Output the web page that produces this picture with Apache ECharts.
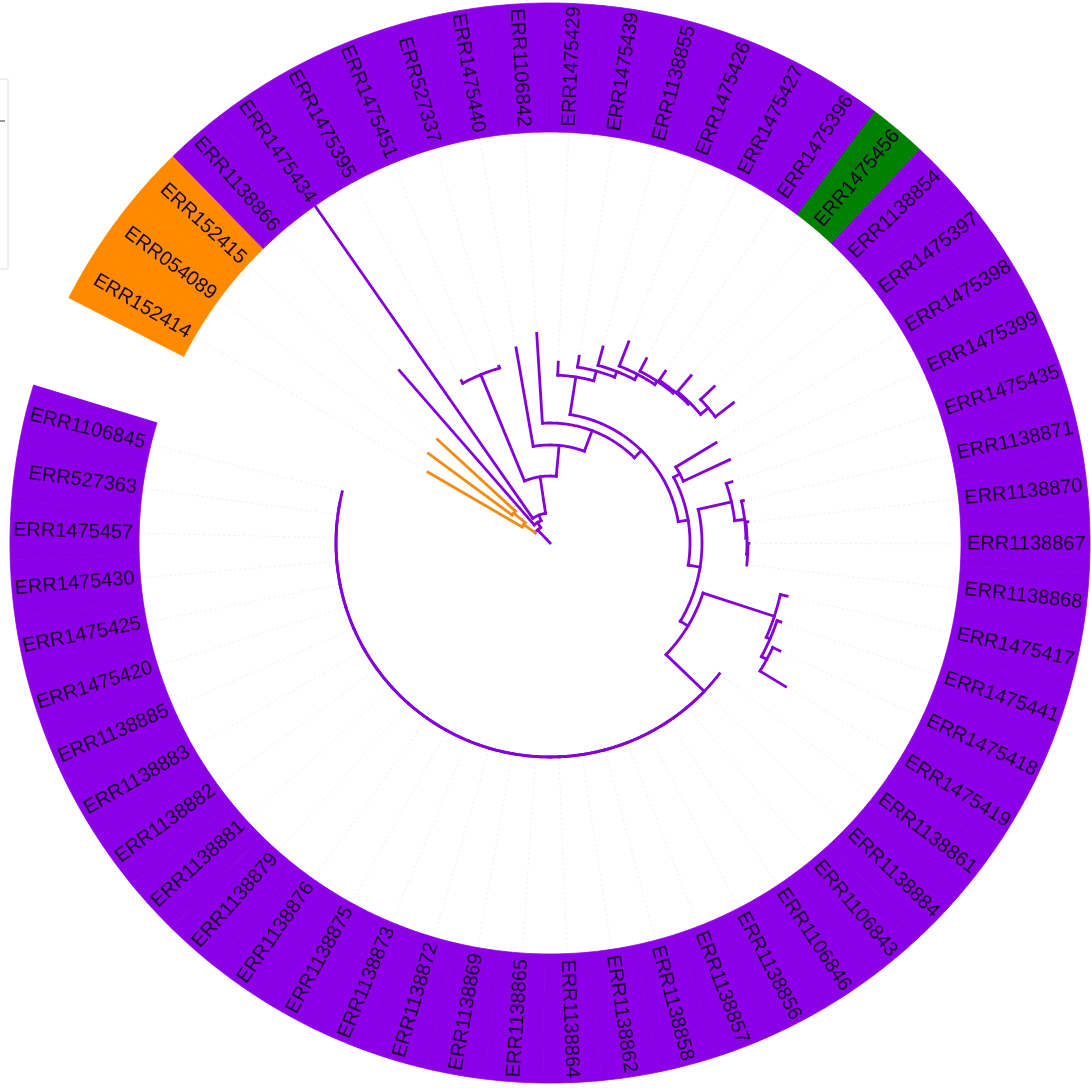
<!DOCTYPE html>
<html><head><meta charset="utf-8">
<script src="https://cdn.jsdelivr.net/npm/echarts/dist/echarts.min.js"></script>
<style>html,body{margin:0;padding:0;background:#fff}#c{width:1091px;height:1088px}</style>
</head><body><div id="c"></div>
<script>
// ---------- DATA ----------
const leafNames = ['ERR152414','ERR054089','ERR152415','ERR1138866','ERR1475434','ERR1475395','ERR1475451','ERR527337','ERR1475440','ERR1106842','ERR1475429','ERR1475439','ERR1138855','ERR1475426','ERR1475427','ERR1475396','ERR1475456','ERR1138854','ERR1475397','ERR1475398','ERR1475399','ERR1475435','ERR1138871','ERR1138870','ERR1138867','ERR1138868','ERR1475417','ERR1475441','ERR1475418','ERR1475419','ERR1138861','ERR1138884','ERR1106843','ERR1106846','ERR1138856','ERR1138857','ERR1138858','ERR1138862','ERR1138864','ERR1138865','ERR1138869','ERR1138872','ERR1138873','ERR1138875','ERR1138876','ERR1138879','ERR1138881','ERR1138882','ERR1138883','ERR1138885','ERR1475420','ERR1475425','ERR1475430','ERR1475457','ERR527363','ERR1106845'];
const orangeLeaves = ['ERR152414','ERR054089','ERR152415'];
const greenLeaves = ['ERR1475456'];

// clades (Newick, branch lengths)
const cladeOrange = "(ERR152414:109,(ERR054089:104,ERR152415:106):15)";
const cladeT = "(ERR1475395:3,ERR1475451:0,ERR527337:2)";
const cladeTop = "(ERR1475429:13,(ERR1475439:11,(ERR1138855:19,(ERR1475426:26,(ERR1475427:14,(ERR1475396:11,(ERR1475456:21,(ERR1138854:19,ERR1475397:23):10):2):2):4):6):6):10)";
const cladeRC = "(ERR1475398:47,ERR1475399:51)";
const cladeR = "(ERR1475435:6,(ERR1138871:2,(ERR1138870:2,(ERR1138867:1,ERR1138868:0):1):1):10)";
const cladeBR = "(ERR1475417:7,(ERR1475441:4,(ERR1475418:8,ERR1475419:30):6):4)";
const cladeBig = "(ERR1138861:0,(ERR1138884:0,(ERR1106843:0,(ERR1106846:0,(ERR1138856:0,(ERR1138857:0,(ERR1138858:0,(ERR1138862:0,(ERR1138864:0,(ERR1138865:0,(ERR1138869:0,(ERR1138872:0,(ERR1138873:0,(ERR1138875:0,(ERR1138876:0,(ERR1138879:0,(ERR1138881:0,(ERR1138882:0,(ERR1138883:0,(ERR1138885:0,(ERR1475420:0,(ERR1475425:0,(ERR1475430:0,(ERR1475457:0,(ERR527363:0,ERR1106845:0)"
  + ":0):0):0):0)" + ":0):0):0):0)" + ":0):0):0):0)" + ":0):0):0):0)" + ":0):0):0):0)" + ":0):0):0):0)";
const treeNewick =
  "((" + cladeOrange + ":14," +
  "(ERR1138866:205," +
  "(ERR1475434:384," +
  "(" + cladeT + ":115," +
  "(ERR1475440:100," +
  "(ERR1106842:90," +
  "(" + cladeTop + ":38," +
  "(" + cladeRC + ":7," +
  "(" + cladeR + ":34," +
  "(" + cladeBR + ":75," + cladeBig + ":53" +
  "):9):12):10):10):22):31):37):6):6):18);";

// ---------- STYLE / LAYOUT ----------
const CX = 550, CY = 543;
const R_IN = 411, R_OUT = 540, LABEL_R = 417;
const ARC_START = 297, ARC_SPAN = 350;
const STEP = ARC_SPAN / leafNames.length;
const ringColors = { purple: '#8b00e6', orange: '#ff8a00', green: '#007f00' };
const branchColors = { purple: '#8300da', orange: '#f08c14', green: '#8300da' };

function groupOf(name) {
  if (orangeLeaves.includes(name)) return 'orange';
  if (greenLeaves.includes(name)) return 'green';
  return 'purple';
}
function leafAngle(i) { return ARC_START + (i + 0.5) * STEP; }
const norm = a => ((a % 360) + 360) % 360;

function parseNewick(str) {
  const s = str.replace(/\s+/g, '');
  let i = 0;
  function node() {
    const n = { children: [], name: '', len: 0 };
    if (s[i] === '(') {
      i++;
      n.children.push(node());
      while (s[i] === ',') { i++; n.children.push(node()); }
      i++;
    }
    let nm = '';
    while (i < s.length && !':,();'.includes(s[i])) nm += s[i++];
    n.name = nm;
    if (s[i] === ':') {
      i++; let num = '';
      while (i < s.length && !',();'.includes(s[i])) num += s[i++];
      n.len = parseFloat(num) || 0;
    }
    return n;
  }
  return node();
}
const tree = parseNewick(treeNewick);

function layout(n, pr) {
  n.r = pr + n.len;
  if (!n.children.length) {
    const idx = leafNames.indexOf(n.name);
    n.a = leafAngle(idx);
    n.group = groupOf(n.name);
  } else {
    n.children.forEach(c => layout(c, n.r));
    const f = n.children[0], l = n.children[n.children.length - 1];
    n.a = (f.a + l.a) / 2;
    n.group = n.children.every(c => c.group === 'orange') ? 'orange' : 'purple';
  }
}
layout(tree, 0);

const segs = [];
const tips = [];
function collect(n, pr) {
  if (n.r - pr > 0.4) segs.push({ kind: 'radial', r0: pr, r1: n.r, a: n.a, color: branchColors[n.group] });
  if (n.children.length) {
    const f = n.children[0], l = n.children[n.children.length - 1];
    if (Math.abs(l.a - f.a) > 0.01) segs.push({ kind: 'arc', r: n.r, a0: f.a, a1: l.a, color: branchColors[n.group] });
    n.children.forEach(c => collect(c, n.r));
  } else {
    tips.push({ r: n.r, a: n.a });
  }
}
collect(tree, 0);

function arcPoints(api, r, a0, a1) {
  const n = Math.max(2, Math.ceil(Math.abs(a1 - a0) / 0.5));
  const pts = [];
  for (let k = 0; k <= n; k++) pts.push(api.coord([r, norm(a0 + (a1 - a0) * k / n)]));
  return pts;
}

const chart = echarts.init(document.getElementById('c'), null, { renderer: 'canvas' });
chart.setOption({
  backgroundColor: '#ffffff',
  animation: false,
  polar: { center: [CX, CY], radius: R_OUT },
  angleAxis: { type: 'value', min: 0, max: 360, startAngle: 90, clockwise: true, show: false },
  radiusAxis: { type: 'value', min: 0, max: R_OUT, show: false },
  graphic: [
    { type: 'polyline', shape: { points: [[0, 79], [8, 79], [8, 269], [0, 269]] }, style: { stroke: '#dedede', lineWidth: 1, fill: 'none' } },
    { type: 'line', shape: { x1: 0, y1: 121, x2: 5, y2: 121 }, style: { stroke: '#777', lineWidth: 1.5 } }
  ],
  series: [
    { // dotted guides from tips to ring
      type: 'custom', coordinateSystem: 'polar', z: 1, silent: true,
      data: tips.map(t => [t.r, norm(t.a)]),
      renderItem: (params, api) => {
        const t = tips[params.dataIndex];
        return { type: 'polyline', shape: { points: [api.coord([t.r + 6, norm(t.a)]), api.coord([R_IN - 2, norm(t.a)])] },
          style: { stroke: '#eeeeee', lineWidth: 1, lineDash: [2, 3], fill: 'none' } };
      }
    },
    { // ring
      type: 'custom', coordinateSystem: 'polar', z: 2, silent: true,
      data: leafNames.map((nm, i) => [R_OUT, norm(leafAngle(i))]),
      renderItem: (params, api) => {
        const i = params.dataIndex, a = leafAngle(i), c = ringColors[groupOf(leafNames[i])];
        const outer = arcPoints(api, R_OUT, a - STEP / 2, a + STEP / 2);
        const inner = arcPoints(api, R_IN, a + STEP / 2, a - STEP / 2);
        return { type: 'polygon', shape: { points: outer.concat(inner) }, style: { fill: c, stroke: c, lineWidth: 0.8 } };
      }
    },
    { // labels
      type: 'custom', coordinateSystem: 'polar', z: 4, silent: true,
      data: leafNames.map((nm, i) => [LABEL_R, norm(leafAngle(i))]),
      renderItem: (params, api) => {
        const i = params.dataIndex, b = norm(leafAngle(i));
        const p = api.coord([LABEL_R, b]);
        const right = b < 180;
        const rot = (right ? (90 - b) : (270 - b)) * Math.PI / 180;
        return { type: 'text', x: p[0], y: p[1], rotation: rot,
          style: { text: leafNames[i], x: 0, y: 0, fontSize: 20, fontFamily: '"Liberation Sans", Arial, sans-serif',
            fill: '#180428', align: right ? 'left' : 'right', verticalAlign: 'middle' } };
      }
    },
    { // tree branches
      type: 'custom', coordinateSystem: 'polar', z: 3, silent: true,
      data: segs.map(s => [s.kind === 'arc' ? s.r : s.r1, norm(s.kind === 'arc' ? s.a0 : s.a)]),
      renderItem: (params, api) => {
        const s = segs[params.dataIndex];
        const pts = s.kind === 'arc' ? arcPoints(api, s.r, s.a0, s.a1)
          : [api.coord([s.r0, norm(s.a)]), api.coord([s.r1, norm(s.a)])];
        return { type: 'polyline', shape: { points: pts }, style: { stroke: s.color, lineWidth: 2.8, fill: 'none', lineCap: 'square', lineJoin: 'miter' } };
      }
    }
  ]
});
</script></body></html>
